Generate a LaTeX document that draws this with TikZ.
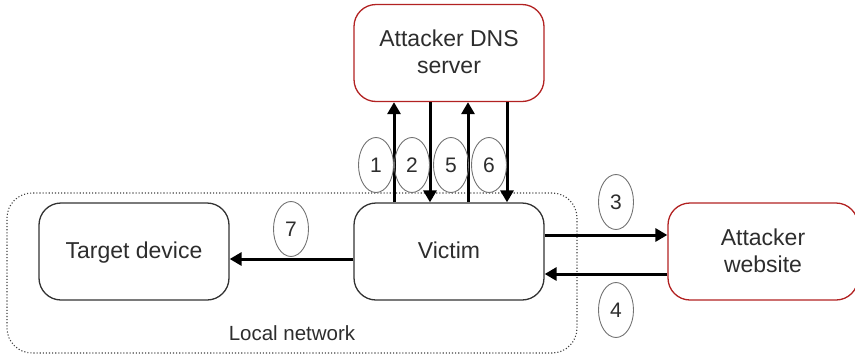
\documentclass[tikz,border=0pt]{standalone}
\usepackage{fontspec}
\setmainfont{Liberation Sans}
\usetikzlibrary{arrows.meta,shapes.geometric}
\definecolor{boxred}{RGB}{178,34,34}
\definecolor{txt}{RGB}{45,45,45}
\begin{document}
\begin{tikzpicture}[x=1pt,y=-1pt,
 box/.style={draw=black!80, line width=1.3pt, rounded corners=22pt, minimum width=190pt, minimum height=97pt, align=center, font=\fontsize{23}{27}\selectfont, text=txt, inner sep=0pt, text depth=2pt},
 redbox/.style={box, draw=boxred},
 num/.style={draw=black!55, line width=0.9pt, ellipse, minimum width=35pt, minimum height=55pt, inner sep=0pt, font=\fontsize{21}{25}\selectfont, text=txt},
 arr/.style={line width=3pt, -{Triangle[length=12pt,width=13pt]}},
 lan/.style={draw=black!75, line width=1.1pt, dotted, rounded corners=25pt, minimum width=570pt, minimum height=160pt}
]
\useasboundingbox (0,0) rectangle (855,354);
\node[lan] (lan) at (292,273) {};
\node[font=\fontsize{20.5}{24}\selectfont, text=txt] (lanlabel) at (292,333) {Local network};
\node[redbox] (dns) at (449,53) {Attacker DNS\\server};
\node[box] (victim) at (449,251.5) {Victim};
\node[box] (target) at (134,251.5) {Target device};
\node[redbox] (web) at (763,251.5) {Attacker\\website};
\draw[arr] ([xshift=-55pt]victim.north) -- ([xshift=-55pt]dns.south);
\draw[arr] ([xshift=-19pt]dns.south) -- ([xshift=-19pt]victim.north);
\draw[arr] ([xshift=19pt]victim.north) -- ([xshift=19pt]dns.south);
\draw[arr] ([xshift=58pt]dns.south) -- ([xshift=58pt]victim.north);
\draw[arr] ([yshift=16.5pt]victim.east) -- ([yshift=16.5pt]web.west);
\draw[arr] ([yshift=-22.5pt]web.west) -- ([yshift=-22.5pt]victim.east);
\draw[arr] ([yshift=-7.5pt]victim.west) -- ([yshift=-7.5pt]target.east);
\node[num] (n1) at (376,165) {1};
\node[num] (n2) at (412,165) {2};
\node[num] (n5) at (451,165) {5};
\node[num] (n6) at (489,165) {6};
\node[num] (n3) at (616,202) {3};
\node[num] (n4) at (616,310) {4};
\node[num] (n7) at (291,229) {7};
\end{tikzpicture}
\end{document}
